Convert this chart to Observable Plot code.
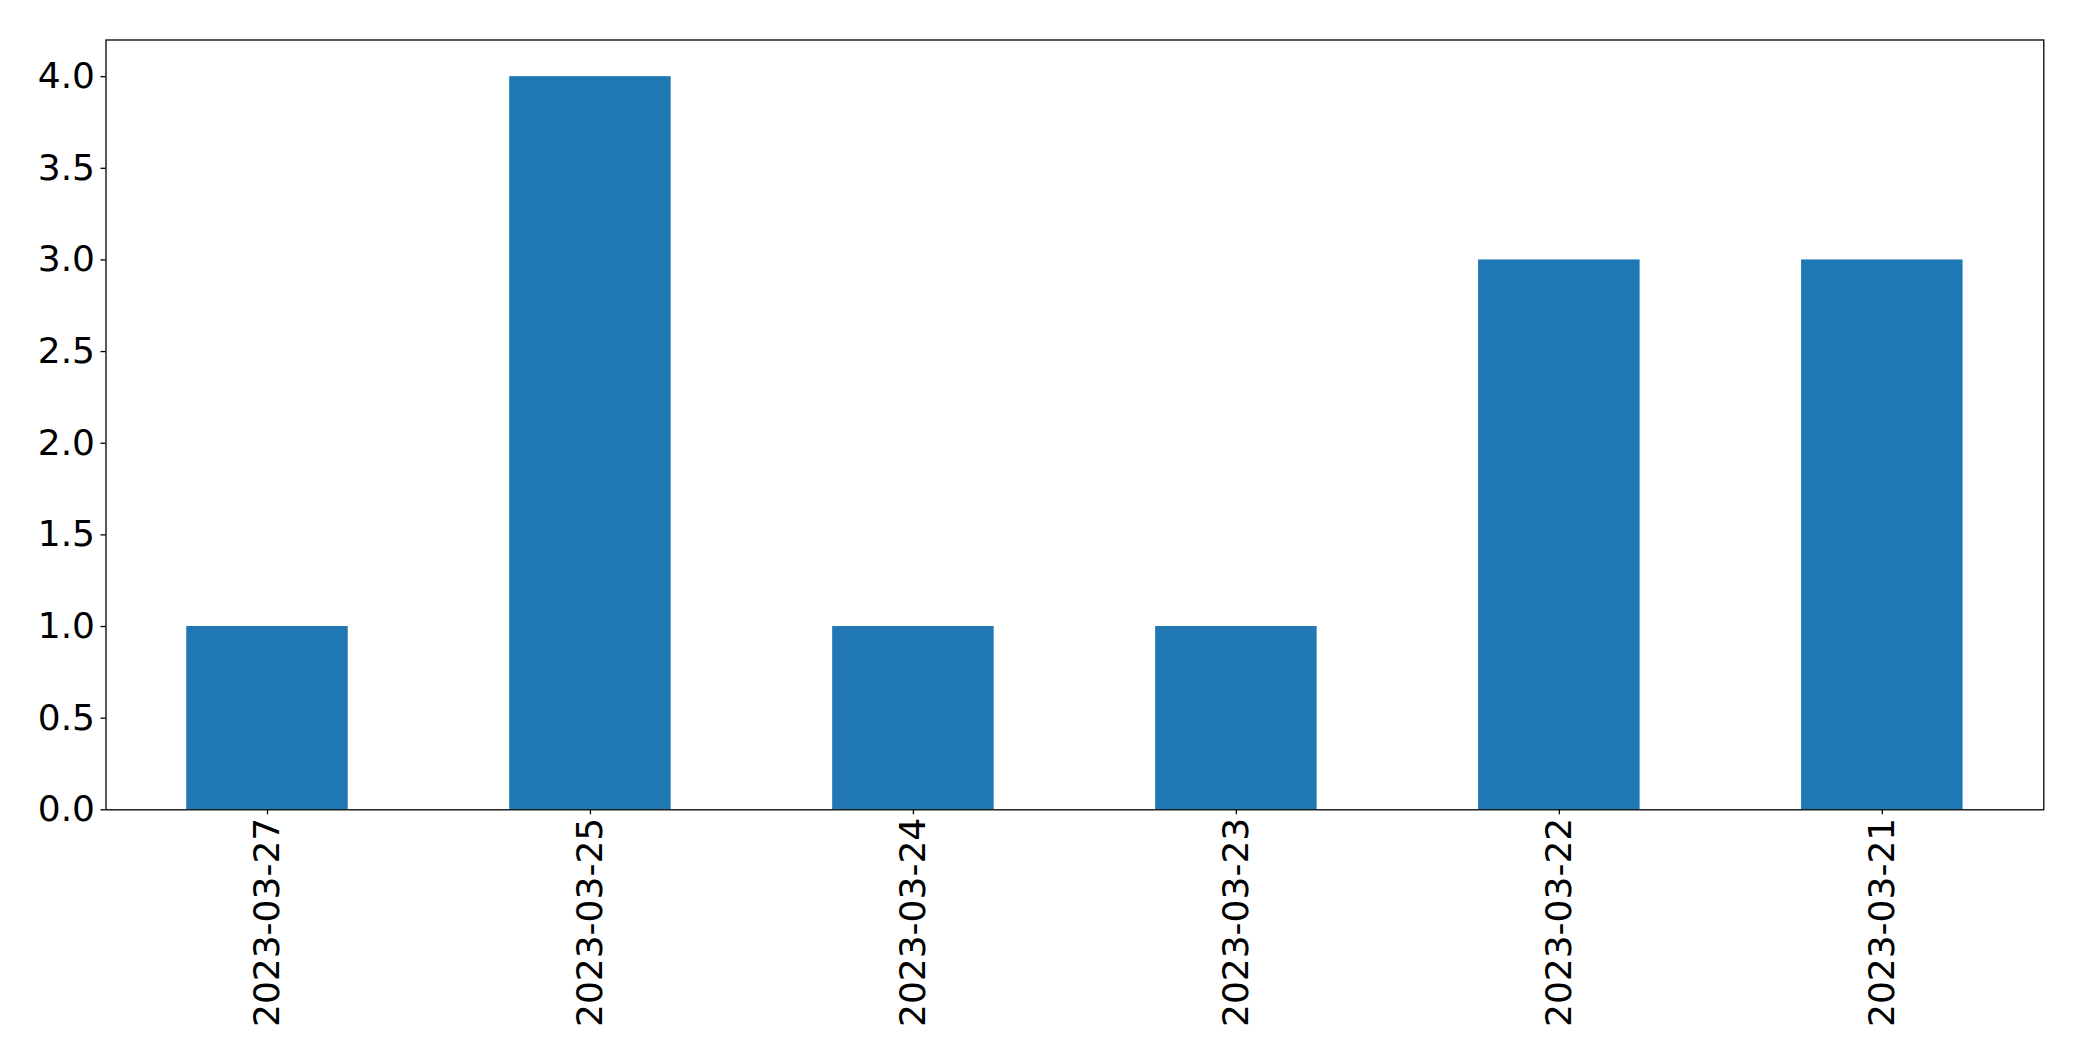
<!DOCTYPE html>
<html>
<head>
<meta charset="utf-8">
<script src="https://cdn.jsdelivr.net/npm/d3@7"></script>
<script src="https://cdn.jsdelivr.net/npm/@observablehq/plot@0.6"></script>
<style>
  html, body { margin: 0; padding: 0; background: #fff; }
  #chart svg { display: block; }
</style>
</head>
<body>
<div id="chart"></div>
<script>
const dates = ["2023-03-27", "2023-03-25", "2023-03-24", "2023-03-23", "2023-03-22", "2023-03-21"];
const counts = [1, 4, 1, 1, 3, 3];
const yTicks = [0, 0.5, 1, 1.5, 2, 2.5, 3, 3.5, 4];

const data = dates.map((d, i) => ({date: d, count: counts[i]}));

const chart = Plot.plot({
  width: 2082,
  height: 1061,
  marginLeft: 105.5,
  marginRight: 38.7,
  marginTop: 39.5,
  marginBottom: 251.7,
  style: {fontFamily: "DejaVu Sans", fontSize: "36px", color: "#000", background: "#fff"},
  x: {domain: dates, paddingInner: 0.5, paddingOuter: 0.25, round: false, label: null},
  y: {domain: [0, 4.2], label: null},
  marks: [
    Plot.barY(data, {x: "date", y: "count", fill: "#1f77b4"}),
    Plot.frame({stroke: "#000", strokeWidth: 1.3}),
    Plot.axisY({ticks: yTicks, tickFormat: d => d.toFixed(1), tickSize: 5, tickPadding: 6, label: null, fontSize: 36, stroke: "#000", strokeWidth: 1.3}),
    Plot.axisX({tickSize: 5, tickPadding: 3, tickRotate: -90, label: null, fontSize: 36, stroke: "#000", strokeWidth: 1.3})
  ]
});
document.getElementById("chart").appendChild(chart);
</script>
</body>
</html>
